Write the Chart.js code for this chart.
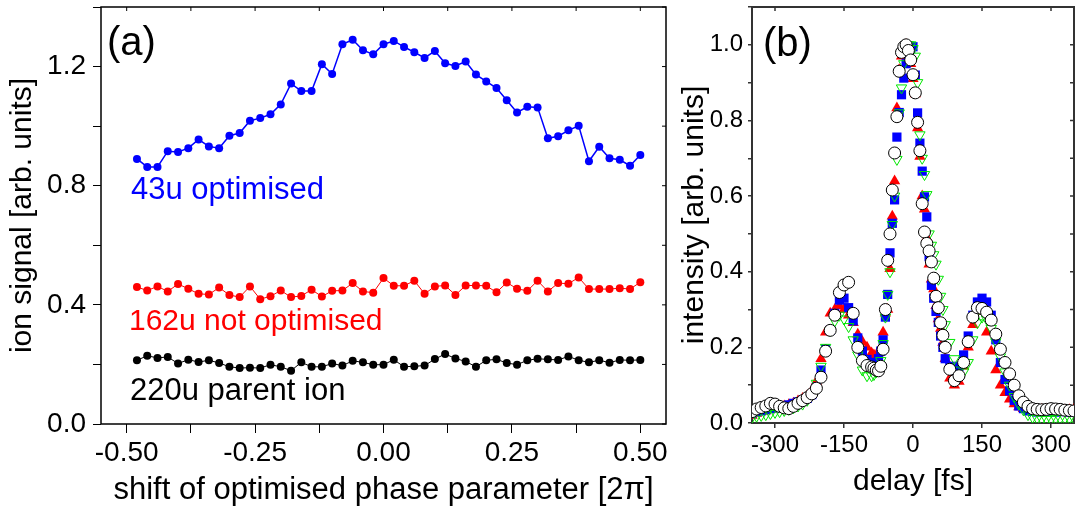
<!DOCTYPE html>
<html>
<head>
<meta charset="utf-8">
<script src="https://cdn.jsdelivr.net/npm/chart.js@4/dist/chart.umd.min.js"></script>
<style>
  html, body { margin: 0; padding: 0; background: #fff; }
  #wrap { position: relative; width: 1086px; height: 512px; overflow: hidden; background: #fff; }
  #chartPhase { position: absolute; left: 0; top: 0; width: 680px; height: 512px; }
  #chartDelay { position: absolute; left: 670px; top: 0; width: 416px; height: 512px; }
</style>
</head>
<body>
<div id="wrap">
  <canvas id="chartPhase" width="680" height="512"></canvas>
  <canvas id="chartDelay" width="416" height="512"></canvas>
</div>
<script>
const FONT = '"Liberation Sans", Arial, Helvetica, sans-serif';

// (a) ion yields vs. shift of the optimised phase parameter [2pi]
const phaseShift = [-0.48, -0.46, -0.44, -0.42, -0.40, -0.38, -0.36, -0.34, -0.32, -0.30,
  -0.28, -0.26, -0.24, -0.22, -0.20, -0.18, -0.16, -0.14, -0.12, -0.10,
  -0.08, -0.06, -0.04, -0.02, 0.00, 0.02, 0.04, 0.06, 0.08, 0.10,
  0.12, 0.14, 0.16, 0.18, 0.20, 0.22, 0.24, 0.26, 0.28, 0.30,
  0.32, 0.34, 0.36, 0.38, 0.40, 0.42, 0.44, 0.46, 0.48, 0.50];
const ion43 = [0.890, 0.863, 0.863, 0.916, 0.913, 0.926, 0.955, 0.932, 0.926, 0.968,
  0.977, 1.018, 1.027, 1.040, 1.073, 1.143, 1.118, 1.118, 1.208, 1.175,
  1.275, 1.290, 1.255, 1.241, 1.275, 1.286, 1.266, 1.248, 1.229, 1.252,
  1.211, 1.202, 1.217, 1.173, 1.150, 1.128, 1.087, 1.046, 1.065, 1.063,
  0.959, 0.966, 0.986, 1.001, 0.882, 0.931, 0.892, 0.887, 0.867, 0.903];
const ion162 = [0.460, 0.448, 0.462, 0.445, 0.470, 0.454, 0.437, 0.435, 0.458, 0.433,
  0.426, 0.462, 0.419, 0.429, 0.448, 0.426, 0.430, 0.451, 0.428, 0.447,
  0.448, 0.473, 0.445, 0.441, 0.490, 0.464, 0.464, 0.481, 0.437, 0.462,
  0.465, 0.433, 0.465, 0.465, 0.464, 0.442, 0.475, 0.454, 0.447, 0.481,
  0.445, 0.473, 0.471, 0.492, 0.453, 0.453, 0.453, 0.456, 0.453, 0.476];
const ion220 = [0.214, 0.229, 0.222, 0.225, 0.203, 0.216, 0.208, 0.214, 0.205, 0.192,
  0.188, 0.189, 0.188, 0.199, 0.192, 0.179, 0.207, 0.192, 0.192, 0.203,
  0.196, 0.212, 0.207, 0.199, 0.199, 0.216, 0.192, 0.194, 0.196, 0.218,
  0.235, 0.220, 0.210, 0.192, 0.214, 0.217, 0.205, 0.199, 0.214, 0.219,
  0.217, 0.215, 0.227, 0.214, 0.207, 0.214, 0.206, 0.215, 0.214, 0.215];

// (b) cross-correlation traces vs. delay [fs]
const delayFs = [-350, -340, -330, -320, -310, -300, -290, -280, -270, -260, -250, -240, -230, -220,
  -210, -200, -190, -180, -170, -160, -150, -140, -130, -120, -110, -100, -90,
  -85, -80, -75, -70, -65, -60, -55, -50, -45, -40, -35, -30, -25, -20, -15, -10, -5,
  0, 5, 10, 15, 20, 25, 30, 35, 40, 45, 50, 55, 60, 65,
  70, 80, 90, 100, 110, 120, 130, 140, 150, 160, 170, 180, 190, 200, 210,
  220, 230, 240, 250, 260, 270, 280, 290, 300, 310, 320, 330, 340, 350];
const traceCircle = [0.030, 0.037, 0.041, 0.045, 0.052, 0.050, 0.044, 0.040, 0.038, 0.044, 0.052, 0.059, 0.067, 0.077,
  0.092, 0.121, 0.190, 0.245, 0.285, 0.345, 0.365, 0.372, 0.290, 0.200, 0.165, 0.152, 0.148,
  0.145, 0.140, 0.138, 0.150, 0.195, 0.300, 0.430, 0.500, 0.616, 0.714, 0.810, 0.930, 0.980, 0.995, 1.000, 0.985, 0.960,
  0.921, 0.873, 0.795, 0.720, 0.580, 0.505, 0.475, 0.455, 0.426, 0.383, 0.335, 0.305, 0.265, 0.232,
  0.200, 0.142, 0.112, 0.125, 0.160, 0.215, 0.280, 0.305, 0.303, 0.293, 0.272, 0.235, 0.195, 0.160, 0.130,
  0.100, 0.072, 0.055, 0.044, 0.038, 0.036, 0.035, 0.036, 0.038, 0.037, 0.036, 0.034, 0.033, 0.032];
const traceSquare = [0.025, 0.030, 0.032, 0.035, 0.038, 0.040, 0.042, 0.045, 0.048, 0.052, 0.056, 0.060, 0.065, 0.075,
  0.095, 0.140, 0.195, 0.245, 0.290, 0.325, 0.330, 0.305, 0.270, 0.225, 0.190, 0.168, 0.160,
  0.158, 0.160, 0.170, 0.190, 0.220, 0.280, 0.340, 0.450, 0.528, 0.590, 0.756, 0.821, 0.868, 0.912, 0.950, 0.975, 0.990,
  0.995, 0.920, 0.820, 0.740, 0.666, 0.598, 0.545, 0.440, 0.364, 0.330, 0.295, 0.266, 0.230, 0.200,
  0.170, 0.150, 0.140, 0.150, 0.180, 0.230, 0.285, 0.320, 0.330, 0.320, 0.285, 0.220, 0.160, 0.115, 0.085,
  0.060, 0.045, 0.038, 0.032, 0.031, 0.029, 0.031, 0.030, 0.032, 0.029, 0.030, 0.031, 0.029, 0.030];
const traceUp = [0.020, 0.025, 0.030, 0.032, 0.035, 0.038, 0.040, 0.045, 0.048, 0.052, 0.058, 0.065, 0.072, 0.085,
  0.110, 0.170, 0.240, 0.290, 0.300, 0.310, 0.300, 0.285, 0.265, 0.235, 0.215, 0.200, 0.185,
  0.180, 0.178, 0.185, 0.200, 0.240, 0.290, 0.300, 0.408, 0.547, 0.640, 0.833, 0.934, 0.970, 0.990, 1.000, 0.990, 0.950,
  0.910, 0.870, 0.780, 0.705, 0.600, 0.565, 0.490, 0.420, 0.380, 0.354, 0.310, 0.275, 0.250, 0.213,
  0.170, 0.118, 0.100, 0.110, 0.150, 0.200, 0.260, 0.295, 0.300, 0.240, 0.190, 0.140, 0.100, 0.080, 0.063,
  0.050, 0.042, 0.038, 0.035, 0.035, 0.034, 0.036, 0.035, 0.034, 0.036, 0.035, 0.034, 0.035, 0.036];
const traceDown = [0.015, 0.018, 0.020, 0.022, 0.025, 0.028, 0.030, 0.033, 0.036, 0.040, 0.045, 0.050, 0.060, 0.075,
  0.105, 0.150, 0.200, 0.245, 0.270, 0.285, 0.275, 0.255, 0.220, 0.180, 0.140, 0.125, 0.125,
  0.128, 0.135, 0.145, 0.165, 0.210, 0.280, 0.340, 0.400, 0.525, 0.600, 0.697, 0.820, 0.886, 0.950, 0.990, 1.000, 1.000,
  0.990, 0.970, 0.900, 0.762, 0.700, 0.657, 0.604, 0.500, 0.470, 0.445, 0.420, 0.380, 0.335, 0.300,
  0.260, 0.213, 0.170, 0.140, 0.135, 0.160, 0.220, 0.265, 0.280, 0.275, 0.250, 0.215, 0.175, 0.135, 0.100,
  0.070, 0.050, 0.035, 0.022, 0.015, 0.012, 0.010, 0.010, 0.010, 0.012, 0.012, 0.012, 0.012, 0.012];

const toPoints = (xs, ys) => xs.map((x, i) => ({ x: x, y: ys[i] }));
const isMultiple = (v, step) => Math.abs(v / step - Math.round(v / step)) < 1e-6;

// fixed axis box sizes; no extra room for label overhang at the ends
const fixHeight = h => s => { s.height = h; s.paddingLeft = 0; s.paddingRight = 0; };
const fixWidth = w => s => { s.width = w; s.paddingTop = 0; s.paddingBottom = 0; };

Chart.defaults.font.family = FONT;
Chart.defaults.color = '#000';

// full frame with inward ticks on top/right, plus free text labels
const boxPlugin = {
  id: 'box',
  beforeDatasetsDraw(chart, args, opts) {
    const { ctx, chartArea: a, scales } = chart;
    ctx.save();
    ctx.strokeStyle = opts.color;
    ctx.lineWidth = opts.width;
    ctx.strokeRect(a.left, a.top, a.right - a.left, a.bottom - a.top);
    ctx.lineWidth = opts.tickWidth;
    ctx.beginPath();
    scales.x.ticks.forEach(t => {
      const px = scales.x.getPixelForValue(t.value);
      ctx.moveTo(px, a.top);
      ctx.lineTo(px, a.top + opts.tickLen);
    });
    scales.y.ticks.forEach(t => {
      const py = scales.y.getPixelForValue(t.value);
      ctx.moveTo(a.right, py);
      ctx.lineTo(a.right - opts.tickLen, py);
    });
    ctx.stroke();
    ctx.restore();
  },
  afterDraw(chart, args, opts) {
    const ctx = chart.ctx;
    ctx.save();
    ctx.textBaseline = 'alphabetic';
    (opts.labels || []).forEach(l => {
      ctx.font = l.size + 'px ' + FONT;
      ctx.fillStyle = l.color;
      ctx.fillText(l.text, l.x, l.y);
    });
    ctx.restore();
  }
};

const lineSet = (label, ys, color, width) => ({
  label: label,
  data: toPoints(phaseShift, ys),
  showLine: true,
  borderColor: color,
  borderWidth: width,
  pointRadius: 4,
  pointBackgroundColor: color,
  pointBorderWidth: 0
});

new Chart(document.getElementById('chartPhase'), {
  type: 'scatter',
  data: {
    datasets: [
      lineSet('43u optimised', ion43, '#0000ff', 1.5),
      lineSet('162u not optimised', ion162, '#ff0000', 1),
      lineSet('220u parent ion', ion220, '#000000', 1)
    ]
  },
  options: {
    responsive: false,
    animation: false,
    events: [],
    layout: { padding: { top: 7, right: 14, left: 0, bottom: 0 } },
    plugins: {
      legend: { display: false },
      tooltip: { enabled: false },
      box: {
        color: '#000', width: 1.5, tickWidth: 1, tickLen: 4,
        labels: [
          { text: '(a)', x: 107, y: 55, size: 40, color: '#000' },
          { text: '43u optimised', x: 131, y: 199, size: 31, color: '#0000ff' },
          { text: '162u not optimised', x: 129, y: 330, size: 30, color: '#ff0000' },
          { text: '220u parent ion', x: 130, y: 400, size: 31, color: '#000' }
        ]
      }
    },
    scales: {
      x: {
        type: 'linear', min: -0.55, max: 0.55,
        border: { display: false },
        grid: { drawOnChartArea: false, tickLength: 9, color: '#000', lineWidth: 1 },
        ticks: {
          stepSize: 0.125, includeBounds: false, maxRotation: 0, padding: 3,
          font: { size: 28 },
          callback: v => isMultiple(v, 0.25) ? v.toFixed(2) : ''
        },
        title: { display: true, text: 'shift of optimised phase parameter [2π]', font: { size: 31 }, padding: { top: 0, bottom: 3 } },
        afterFit: fixHeight(88)
      },
      y: {
        type: 'linear', min: 0, max: 1.4,
        border: { display: false },
        grid: { drawOnChartArea: false, tickLength: 8, color: '#000', lineWidth: 1 },
        ticks: {
          stepSize: 0.2, includeBounds: false, padding: 7,
          font: { size: 28 },
          callback: v => isMultiple(v, 0.4) ? v.toFixed(1) : ''
        },
        title: { display: true, text: 'ion signal [arb. units]', font: { size: 30 }, padding: { top: 5, bottom: 0 } },
        afterFit: fixWidth(101)
      }
    }
  },
  plugins: [boxPlugin]
});

const markerSet = (label, ys, style) => Object.assign({
  label: label,
  data: toPoints(delayFs, ys),
  showLine: false
}, style);

new Chart(document.getElementById('chartDelay'), {
  type: 'scatter',
  data: {
    datasets: [
      markerSet('circles', traceCircle, { pointStyle: 'circle', pointRadius: 6, backgroundColor: '#ffffff', borderColor: '#000000', borderWidth: 1 }),
      markerSet('down triangles', traceDown, { pointStyle: 'triangle', rotation: 180, pointRadius: 6, backgroundColor: 'rgba(0,0,0,0)', borderColor: '#00e600', borderWidth: 1 }),
      markerSet('squares', traceSquare, { pointStyle: 'rect', pointRadius: 6.5, backgroundColor: '#0000ff', borderWidth: 0 }),
      markerSet('up triangles', traceUp, { pointStyle: 'triangle', pointRadius: 6.5, backgroundColor: '#ff0000', borderWidth: 0 })
    ]
  },
  options: {
    responsive: false,
    animation: false,
    events: [],
    layout: { padding: { top: 7, right: 12, left: 0, bottom: 0 } },
    plugins: {
      legend: { display: false },
      tooltip: { enabled: false },
      box: {
        color: '#333', width: 2, tickWidth: 1.5, tickLen: 4,
        labels: [
          { text: '(b)', x: 93, y: 56, size: 40, color: '#000' }
        ]
      }
    },
    scales: {
      x: {
        type: 'linear', min: -350, max: 350,
        border: { display: false },
        grid: { drawOnChartArea: false, tickLength: 5, color: '#333', lineWidth: 1.5 },
        ticks: {
          stepSize: 75, includeBounds: false, maxRotation: 0, padding: 3,
          font: { size: 24 },
          callback: v => isMultiple(v, 150) ? String(v) : ''
        },
        title: { display: true, text: 'delay [fs]', font: { size: 30 }, padding: { top: 0, bottom: 12 } },
        afterFit: fixHeight(89)
      },
      y: {
        type: 'linear', min: 0, max: 1.1,
        border: { display: false },
        grid: { drawOnChartArea: false, tickLength: 4, color: '#333', lineWidth: 1.5 },
        ticks: {
          stepSize: 0.1, includeBounds: false, padding: 5,
          font: { size: 24 },
          callback: v => isMultiple(v, 0.2) ? v.toFixed(1) : ''
        },
        title: { display: true, text: 'intensity [arb. units]', font: { size: 30 }, padding: { top: 7, bottom: 0 } },
        afterFit: fixWidth(82)
      }
    }
  },
  plugins: [boxPlugin]
});
</script>
</body>
</html>
